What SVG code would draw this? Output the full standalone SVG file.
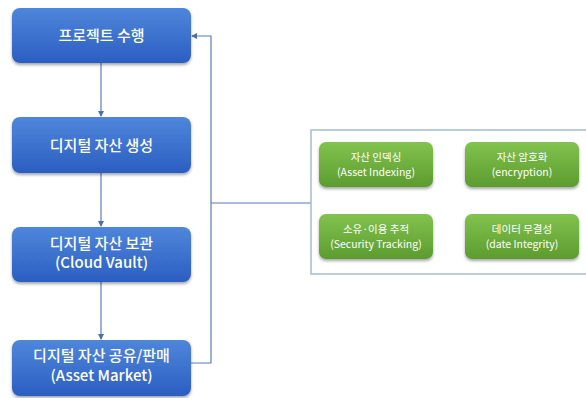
<svg xmlns="http://www.w3.org/2000/svg" width="586" height="398" viewBox="0 0 586 398">
<defs>
<linearGradient id="gb" x1="0" y1="0" x2="0" y2="1">
<stop offset="0" stop-color="#4f86db"/>
<stop offset="1" stop-color="#2b5ec2"/>
</linearGradient>
<linearGradient id="gg" x1="0" y1="0" x2="0" y2="1">
<stop offset="0" stop-color="#82c24e"/>
<stop offset="1" stop-color="#5c9c2f"/>
</linearGradient>
<filter id="sh" x="-10%" y="-10%" width="120%" height="140%">
<feGaussianBlur in="SourceAlpha" stdDeviation="1.5"/>
<feOffset dy="2" result="b"/>
<feComponentTransfer><feFuncA type="linear" slope="0.35"/></feComponentTransfer>
<feMerge><feMergeNode/><feMergeNode in="SourceGraphic"/></feMerge>
</filter>
<marker id="ah" markerWidth="6" markerHeight="6" refX="5" refY="3" orient="auto" markerUnits="userSpaceOnUse">
<path d="M0,0 L6,3 L0,6 z" fill="#4a70b0"/>
</marker>
</defs>
<style>
.bb{fill:url(#gb);filter:url(#sh)}
.gb{fill:url(#gg);filter:url(#sh)}
.tb{fill:#fff;font-family:"Noto Sans CJK KR","Noto Sans",sans-serif;font-size:15px;font-weight:500;text-anchor:middle}
.tg{fill:#fff;font-family:"Noto Sans CJK KR","Noto Sans",sans-serif;font-size:10.5px;text-anchor:middle}
.c{fill:none;stroke:#5b7db8;stroke-width:1.2}
</style>
<rect width="586" height="398" fill="#fff"/>
<g id="connectors">
<line class="c" x1="101" y1="63" x2="101" y2="116" marker-end="url(#ah)"/>
<line class="c" x1="101" y1="173" x2="101" y2="226" marker-end="url(#ah)"/>
<line class="c" x1="101" y1="282" x2="101" y2="339" marker-end="url(#ah)"/>
<polyline class="c" points="191,363 211,363 211,36 192,36" marker-end="url(#ah)"/>
<line class="c" x1="211" y1="203" x2="311" y2="203"/>
</g>
<g id="n1"><rect class="bb" x="12" y="8" width="179" height="55" rx="8"/><text class="tb" x="101.5" y="41">프로젝트 수행</text></g>
<g id="n2"><rect class="bb" x="12" y="117" width="179" height="56" rx="8"/><text class="tb" x="101.5" y="151">디지털 자산 생성</text></g>
<g id="n3"><rect class="bb" x="12" y="227" width="179" height="55" rx="8"/><text class="tb" x="101.5" y="249">디지털 자산 보관</text><text class="tb" x="101.5" y="268">(Cloud Vault)</text></g>
<g id="n4"><rect class="bb" x="12" y="340" width="179" height="56" rx="8"/><text class="tb" x="101.5" y="361">디지털 자산 공유/판매</text><text class="tb" x="101.5" y="381">(Asset Market)</text></g>
<g id="container"><rect x="311" y="130" width="290" height="144" fill="#fff" stroke="#a8bccf" stroke-width="1.5"/></g>
<g id="g1"><rect class="gb" x="319" y="142" width="114" height="45" rx="7"/><text class="tg" x="376" y="161">자산 인덱싱</text><text class="tg" x="376" y="176">(Asset Indexing)</text></g>
<g id="g2"><rect class="gb" x="465" y="142" width="114" height="45" rx="7"/><text class="tg" x="522" y="161">자산 암호화</text><text class="tg" x="522" y="176">(encryption)</text></g>
<g id="g3"><rect class="gb" x="319" y="214" width="114" height="45" rx="7"/><text class="tg" x="376" y="233">소유·이용 추적</text><text class="tg" x="376" y="248">(Security Tracking)</text></g>
<g id="g4"><rect class="gb" x="465" y="214" width="114" height="45" rx="7"/><text class="tg" x="522" y="233">데이터 무결성</text><text class="tg" x="522" y="248">(date Integrity)</text></g>
</svg>
